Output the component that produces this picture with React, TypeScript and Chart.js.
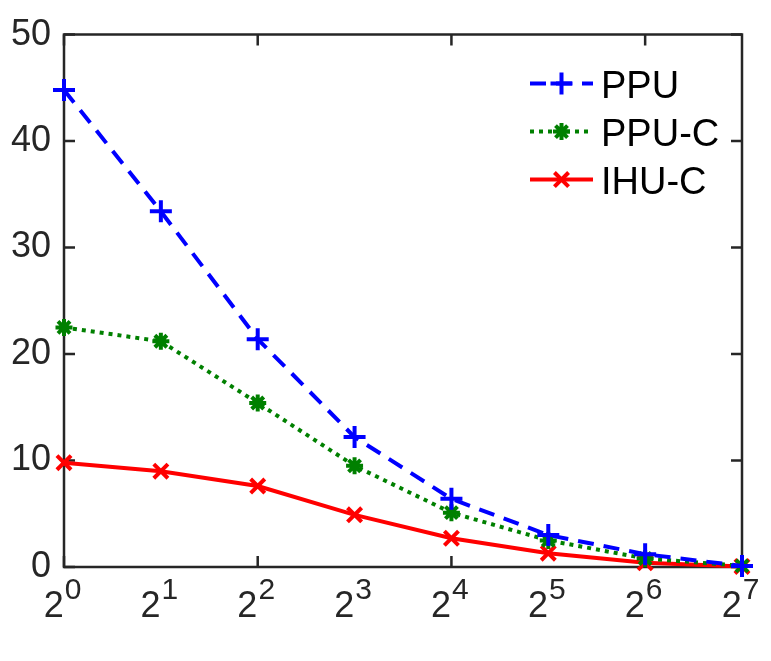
import React, { useEffect, useRef } from "react";
import { Chart, registerables } from "chart.js";
import { drawPoint } from "chart.js/helpers";

Chart.register(...registerables);

// x positions are powers of two: 2^0 ... 2^7
const xExponents = [0, 1, 2, 3, 4, 5, 6, 7];
const xTickMarkExponents = [0, 2, 4, 6];
const yTicks = [0, 10, 20, 30, 40, 50];

const ppu = [44.8, 33.4, 21.4, 12.2, 6.4, 3.0, 1.2, 0.1];
const ppuC = [22.5, 21.2, 15.4, 9.5, 5.1, 2.5, 0.8, 0.1];
const ihuC = [9.8, 9.0, 7.6, 4.9, 2.7, 1.3, 0.4, 0.05];

const seriesNames = ["PPU", "PPU-C", "IHU-C"];

const AXIS_COLOR = "#262626";
const FONT = "Liberation Sans, Arial, Helvetica, sans-serif";

const toPoints = (vals: number[]) =>
  vals.map((v, i) => ({ x: Math.pow(2, xExponents[i]), y: v }));

// Box around the plot area with inward tick marks on all four sides
const boxPlugin = {
  id: "matlabBox",
  beforeDatasetsDraw(chart: any) {
    const { ctx, chartArea: a, scales } = chart;
    const tl = 11;
    ctx.save();
    ctx.strokeStyle = AXIS_COLOR;
    ctx.lineWidth = 2.5;
    ctx.lineCap = "butt";
    ctx.beginPath();
    ctx.rect(a.left, a.top, a.right - a.left, a.bottom - a.top);
    ctx.stroke();
    ctx.beginPath();
    for (const t of yTicks) {
      const y = scales.y.getPixelForValue(t);
      ctx.moveTo(a.left, y);
      ctx.lineTo(a.left + tl, y);
      ctx.moveTo(a.right, y);
      ctx.lineTo(a.right - tl, y);
    }
    for (const e of xTickMarkExponents) {
      const x = scales.x.getPixelForValue(Math.pow(2, e));
      ctx.moveTo(x, a.bottom);
      ctx.lineTo(x, a.bottom - tl);
      ctx.moveTo(x, a.top);
      ctx.lineTo(x, a.top + tl);
    }
    ctx.stroke();
    ctx.restore();
  },
};

// x tick labels written as 2 with a raised exponent
const xLabelPlugin = {
  id: "powerLabels",
  afterDraw(chart: any) {
    const { ctx, chartArea: a, scales } = chart;
    ctx.save();
    ctx.fillStyle = AXIS_COLOR;
    ctx.textBaseline = "alphabetic";
    ctx.textAlign = "left";
    for (const e of xExponents) {
      const x = scales.x.getPixelForValue(Math.pow(2, e));
      const exp = String(e);
      ctx.font = `36px ${FONT}`;
      const wBase = ctx.measureText("2").width;
      ctx.font = `30px ${FONT}`;
      const wExp = ctx.measureText(exp).width;
      const start = x - (wBase + wExp) / 2 - 2;
      const base = a.bottom + 50;
      ctx.font = `36px ${FONT}`;
      ctx.fillText("2", start, base);
      ctx.font = `30px ${FONT}`;
      ctx.fillText(exp, start + wBase + 1, base - 18);
    }
    ctx.restore();
  },
};

// Legend placed inside the upper right of the plot area, no frame
const legendPlugin = {
  id: "insideLegend",
  afterDatasetsDraw(chart: any) {
    const { ctx, chartArea: a } = chart;
    const x0 = a.right - 212;
    const x1 = a.right - 149;
    const xm = (x0 + x1) / 2;
    const textX = a.right - 141;
    ctx.save();
    chart.data.datasets.forEach((ds: any, i: number) => {
      const y = a.top + 49 + i * 48;
      ctx.save();
      ctx.strokeStyle = ds.borderColor;
      ctx.lineWidth = ds.borderWidth;
      ctx.lineCap = "butt";
      ctx.setLineDash(ds.borderDash || []);
      ctx.beginPath();
      ctx.moveTo(x0, y);
      ctx.lineTo(x1, y);
      ctx.stroke();
      ctx.restore();
      ctx.save();
      ctx.strokeStyle = ds.pointBorderColor;
      ctx.fillStyle = ds.pointBorderColor;
      ctx.lineWidth = ds.pointBorderWidth;
      drawPoint(
        ctx,
        { pointStyle: ds.pointStyle, radius: ds.pointRadius, rotation: 0, borderWidth: ds.pointBorderWidth },
        xm,
        y
      );
      ctx.restore();
      ctx.fillStyle = "#000000";
      ctx.font = `38px ${FONT}`;
      ctx.textBaseline = "alphabetic";
      ctx.textAlign = "left";
      ctx.fillText(ds.label, textX, y + 14);
    });
    ctx.restore();
  },
};

export default function App() {
  const canvasRef = useRef<HTMLCanvasElement | null>(null);

  useEffect(() => {
    if (!canvasRef.current) return;
    const chart = new Chart(canvasRef.current, {
      type: "line",
      data: {
        datasets: [
          {
            label: seriesNames[0],
            data: toPoints(ppu),
            borderColor: "#0000ff",
            borderWidth: 4,
            borderDash: [16, 10],
            borderCapStyle: "butt",
            pointStyle: "cross",
            pointRadius: 11,
            pointBorderWidth: 4,
            pointBorderColor: "#0000ff",
            pointBackgroundColor: "#0000ff",
            tension: 0,
            clip: false,
          },
          {
            label: seriesNames[1],
            data: toPoints(ppuC),
            borderColor: "#008000",
            borderWidth: 4,
            borderDash: [4, 5],
            borderCapStyle: "butt",
            pointStyle: "star",
            pointRadius: 8.5,
            pointBorderWidth: 4,
            pointBorderColor: "#008000",
            pointBackgroundColor: "#008000",
            tension: 0,
            clip: false,
          },
          {
            label: seriesNames[2],
            data: toPoints(ihuC),
            borderColor: "#ff0000",
            borderWidth: 4,
            borderCapStyle: "butt",
            pointStyle: "crossRot",
            pointRadius: 10,
            pointBorderWidth: 4,
            pointBorderColor: "#ff0000",
            pointBackgroundColor: "#ff0000",
            tension: 0,
            clip: false,
          },
        ] as any,
      },
      options: {
        responsive: false,
        animation: false,
        devicePixelRatio: 1,
        layout: { padding: { left: 0, top: 33, right: 29, bottom: 94 } },
        plugins: {
          legend: { display: false },
          tooltip: { enabled: false },
        },
        scales: {
          x: {
            type: "logarithmic",
            min: 1,
            max: 128,
            display: false,
          },
          y: {
            type: "linear",
            min: 0,
            max: 50,
            afterFit: (s: any) => {
              s.width = 64;
            },
            afterBuildTicks: (s: any) => {
              s.ticks = yTicks.map((v) => ({ value: v }));
            },
            ticks: {
              color: AXIS_COLOR,
              padding: 13,
              font: { family: FONT, size: 36 },
            },
            grid: { display: false, drawTicks: false },
            border: { display: false },
          },
        },
      } as any,
      plugins: [boxPlugin, xLabelPlugin, legendPlugin],
    });
    return () => chart.destroy();
  }, []);

  return (
    <div style={{ position: "fixed", left: 0, top: 0, width: 771, height: 661, background: "#ffffff" }}>
      <canvas ref={canvasRef} width={771} height={661} style={{ display: "block" }} />
    </div>
  );
}
